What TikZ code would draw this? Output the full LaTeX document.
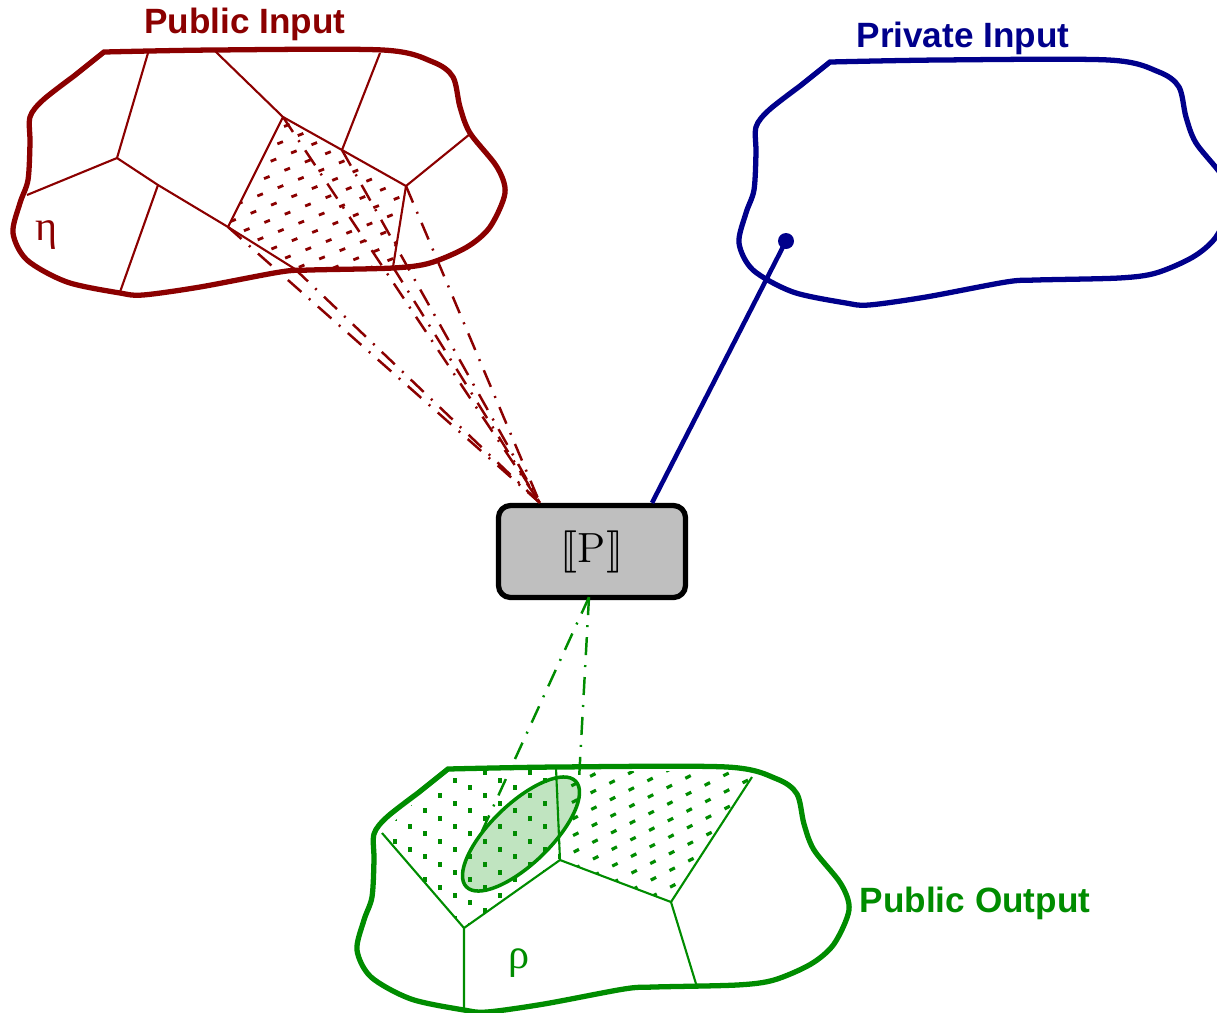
\documentclass[tikz,border=0pt]{standalone}
\usepackage{fontspec}
\usepackage{stmaryrd}
\newfontfamily\labelfont{Liberation Sans}
\newfontfamily\greekfont{Liberation Serif}
\definecolor{pubred}{RGB}{139,0,0}
\definecolor{privblue}{RGB}{0,0,139}
\definecolor{pubgreen}{RGB}{0,140,0}
\definecolor{lightgreen}{RGB}{192,228,192}

\tikzset{
  blob/.pic={
    \draw[line width=1.5pt] plot[smooth] coordinates {(0,0) (1.09,-0.02) (2.79,-0.02) (3.29,0.10)
      (3.49,0.25) (3.56,0.55) (3.66,0.81) (3.93,1.15) (4.01,1.41) (3.86,1.75) (3.63,1.95)
      (3.26,2.11) (2.89,2.16) (2.06,2.18) (1.76,2.20) (0.96,2.35) (0.39,2.43) (0.16,2.41)
      (-0.37,2.30) (-0.77,2.08) (-0.91,1.81) (-0.84,1.51) (-0.76,1.28) (-0.74,0.91)
      (-0.74,0.65) (-0.61,0.48) (-0.30,0.24)} -- cycle;
  },
  cellline/.style={line width=0.6pt},
  ddot/.style={line width=0.7pt, dash pattern=on 0.18cm off 0.1cm on 0.02cm off 0.1cm},
  blobtitle/.style={font=\labelfont\bfseries},
  pbox/.style={draw, line width=1.5pt, rounded corners=0.12cm, fill=black!25,
    minimum width=1.87cm, minimum height=0.92cm, font=\large}
}

\begin{document}
\begin{tikzpicture}[yscale=-1]
    \useasboundingbox (0,0) rectangle (12.17,10.12);

    % the three sets
    \pic[pubred, transform shape] at (1.04,0.52) {blob};
    \pic[privblue, transform shape] at (8.30,0.62) {blob};
    \pic[pubgreen, transform shape] at (4.48,7.69) {blob};

    \node[blobtitle, pubred] (pubin) at (2.45,0.24) {Public Input};
    \node[blobtitle, privblue] (privin) at (9.63,0.38) {Private Input};
    \node[blobtitle, pubgreen] (pubout) at (9.75,9.03) {Public Output};

    \node[pubred, font=\greekfont\fontsize{12}{14}\selectfont] (eta) at (0.47,2.35) {η};
    \node[pubgreen, font=\greekfont\fontsize{12}{14}\selectfont] (rho) at (5.19,9.63) {ρ};

    \node[pbox] (prog) at (5.92,5.515) {$\llbracket \mathrm{P} \rrbracket$};

    % partition of the public input
    \coordinate (A) at (1.17,1.58);
    \coordinate (C) at (1.58,1.85);
    \coordinate (B) at (2.28,2.27);
    \coordinate (Bb) at (2.95,2.69);
    \coordinate (D) at (2.83,1.17);
    \coordinate (E) at (3.42,1.50);
    \coordinate (F) at (4.06,1.86);
    \coordinate (Fb) at (3.93,2.67);

    \begin{scope}
      \clip (B) -- (D) -- (E) -- (F) -- (Fb) -- (Bb) -- cycle;
      \begin{scope}[shift={(3.2,2.0)}, rotate=-22]
        \foreach \k in {-10,...,10}
          \draw[pubred, line width=0.8pt, dash pattern=on 0.06cm off 0.16cm]
            ({-5-0.127*\k},{0.136*\k}) -- (3,{0.136*\k});
      \end{scope}
    \end{scope}

    \draw[cellline, pubred] (1.48,0.53) -- (A) -- (0.27,1.95);
    \draw[cellline, pubred] (A) -- (C) -- (B) -- (Bb);
    \draw[cellline, pubred] (C) -- (1.20,2.92);
    \draw[cellline, pubred] (B) -- (D) -- (2.15,0.51);
    \draw[cellline, pubred] (D) -- (E) -- (3.80,0.53);
    \draw[cellline, pubred] (E) -- (F) -- (4.70,1.34);
    \draw[cellline, pubred] (F) -- (Fb);

    % partition of the public output
    \coordinate (G) at (3.82,8.33);
    \coordinate (H) at (4.64,9.28);
    \coordinate (I) at (5.60,8.60);
    \coordinate (It) at (5.56,7.68);
    \coordinate (J) at (6.71,9.02);
    \coordinate (Jt) at (7.52,7.77);

    \fill[lightgreen, rotate around={-44:(5.21,8.34)}] (5.21,8.34) ellipse [x radius=0.76, y radius=0.30];

    \begin{scope}
      \clip (4.48,7.71) -- (G) -- (H) -- (I) -- (It) -- cycle;
      \foreach \k in {0,...,13}
        \draw[pubgreen, line width=0.9pt, dash pattern=on 0.05cm off 0.18cm]
          ({3.80+0.15*\k},{7.62+0.08*mod(\k,3)}) -- ++(0,1.8);
    \end{scope}
    \begin{scope}
      \clip (5.56,7.71) -- (I) -- (J) -- (Jt) -- (7.40,7.71) -- cycle;
      \begin{scope}[shift={(6.5,8.3)}, rotate=-27]
        \foreach \k in {-9,...,9}
          \draw[pubgreen, line width=0.9pt, dash pattern=on 0.06cm off 0.15cm]
            ({-4-0.07*\k},{0.15*\k}) -- (3,{0.15*\k});
      \end{scope}
    \end{scope}

    \draw[pubgreen, line width=1pt, rotate around={-44:(5.21,8.34)}] (5.21,8.34) ellipse [x radius=0.76, y radius=0.30];

    \draw[cellline, pubgreen] (G) -- (H) -- (4.64,10.08);
    \draw[cellline, pubgreen] (H) -- (I) -- (It);
    \draw[cellline, pubgreen] (I) -- (J) -- (Jt);
    \draw[cellline, pubgreen] (J) -- (6.97,9.87);

    % the program reads its inputs
    \coordinate (rin) at ([xshift=0.44cm]prog.north west);
    \foreach \p in {B,Bb,D,E,Fb,F}
      \draw[ddot, pubred] (\p) -- (rin);

    \coordinate (secret) at (7.86,2.41);
    \draw[privblue, line width=1.3pt] ([xshift=0.6cm]prog.north) -- (secret);
    \fill[privblue] (secret) circle (0.08);

    % and writes its output
    \coordinate (gout) at ([xshift=-0.03cm,yshift=-0.03cm]prog.south);
    \coordinate (lo) at (4.78,8.40);
    \coordinate (hi) at (5.79,7.80);
    \draw[ddot, pubgreen] (gout) -- (lo);
    \draw[ddot, pubgreen] (gout) -- (hi);

\end{tikzpicture}
\end{document}
